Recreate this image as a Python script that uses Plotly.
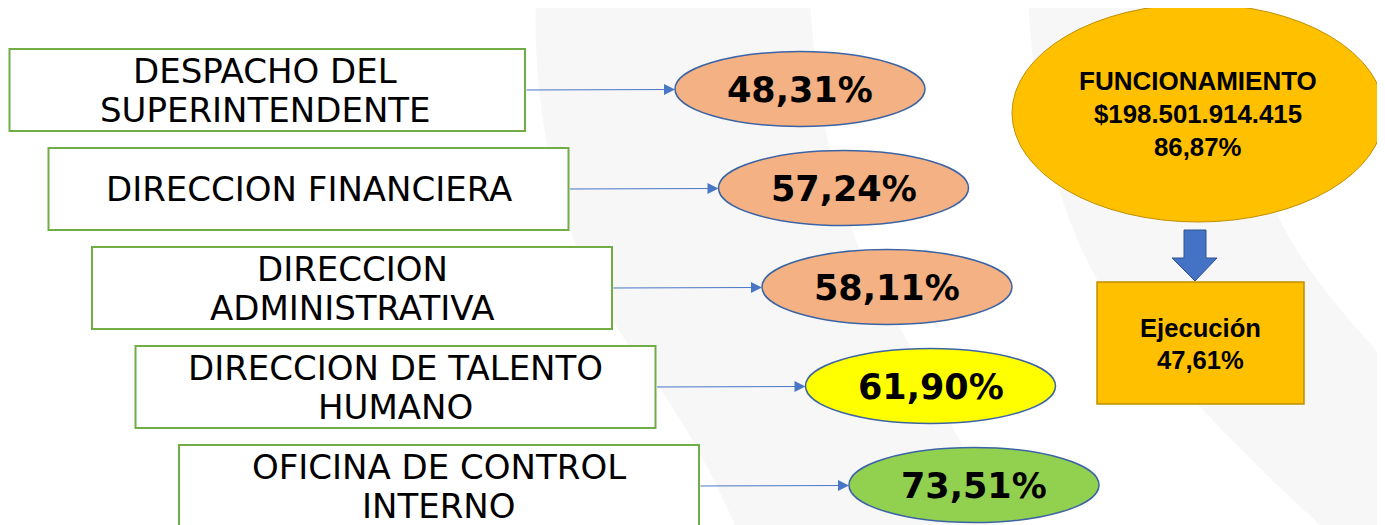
import plotly.graph_objects as go

# ---------------- data ----------------
units = ["DESPACHO DEL\nSUPERINTENDENTE", "DIRECCION FINANCIERA", "DIRECCION\nADMINISTRATIVA",
         "DIRECCION DE TALENTO\nHUMANO", "OFICINA DE CONTROL\nINTERNO"]
unit_pct = [48.31, 57.24, 58.11, 61.90, 73.51]
unit_colors = ["#F4B183", "#F4B183", "#F4B183", "#FFFF00", "#92D050"]
func_label = "FUNCIONAMIENTO"
func_total = 198501914415
func_pct = 86.87
exec_label = "Ejecución"
exec_pct = 47.61

W, H = 1385, 525
PAGE_MARGIN = 8  # default body margin of the html page


def pct_str(v):
    return f"{v:.2f}".replace(".", ",") + "%"


shapes = []
annotations = []

# faint background bands
bandA = ("M 536 0 C 532 120, 560 260, 647 370 C 690 430, 715 480, 735 525 "
         "L 1005 525 C 960 440, 900 330, 860 250 C 830 180, 815 80, 810 0 Z")
bandB = ("M 1028 0 C 1035 120, 1060 250, 1140 340 C 1200 410, 1260 470, 1320 525 "
         "L 1385 525 L 1385 360 C 1330 300, 1280 240, 1265 180 C 1252 110, 1245 50, 1243 0 Z")
for p in (bandA, bandB):
    shapes.append(dict(type="path", path=p, xref="x", yref="y", fillcolor="#F7F7F8",
                       line=dict(width=0), layer="below"))

step_x, step_y = 43.5, 99.0
box_w, box_h = 520, 82
ell_w, ell_h = 250, 75

for i, (name, v, c) in enumerate(zip(units, unit_pct, unit_colors)):
    bx1 = 525 + step_x * i
    bx0 = max(bx1 - box_w, PAGE_MARGIN + 1.5)
    by0 = 49 + step_y * i
    by1 = by0 + box_h if i < len(units) - 1 else by0 + 90
    shapes.append(dict(type="rect", xref="x", yref="y", x0=bx0, x1=bx1, y0=by0, y1=by1,
                       fillcolor="#FFFFFF", line=dict(color="#70AD47", width=2)))
    cy = by0 + 41
    tx = bx1 - box_w / 2
    lines = name.split("\n")
    offs = [0] if len(lines) == 1 else [-19.5, 19.5]
    for ln, o in zip(lines, offs):
        annotations.append(dict(x=tx, y=cy + o, xref="x", yref="y", text=ln,
                                showarrow=False, xanchor="center", yanchor="middle",
                                font=dict(family="DejaVu Sans", size=34, color="#000000")))
    ex0 = 675 + step_x * i
    ecy = 89 + step_y * i
    shapes.append(dict(type="circle", xref="x", yref="y", x0=ex0, x1=ex0 + ell_w,
                       y0=ecy - ell_h / 2, y1=ecy + ell_h / 2, fillcolor=c,
                       line=dict(color="#3B64A5", width=1.5)))
    annotations.append(dict(x=ex0 + ell_w / 2, y=ecy + 1, xref="x", yref="y", text=pct_str(v),
                            showarrow=False, xanchor="center", yanchor="middle",
                            font=dict(family="DejaVu Sans", size=35, color="#000000",
                                      weight="bold")))
    # connector arrow
    annotations.append(dict(x=ex0, y=ecy + 0.5, xref="x", yref="y", ax=bx1, ay=ecy + 1,
                            axref="x", ayref="y", text="", showarrow=True, arrowhead=2,
                            arrowsize=2.2, arrowwidth=1, arrowcolor="#4A76C6", standoff=0))

# Funcionamiento ellipse
fcx, fcy = 1198, 113
shapes.append(dict(type="circle", xref="x", yref="y", x0=fcx - 186, x1=fcx + 186,
                   y0=fcy - 109, y1=fcy + 109, fillcolor="#FFC000",
                   line=dict(color="#BF9000", width=1)))
func_lines = [func_label, "$" + f"{func_total:,}".replace(",", "."), pct_str(func_pct)]
func_sizes = [26, 25.8, 25.8]
for k, (ln, fs) in enumerate(zip(func_lines, func_sizes)):
    annotations.append(dict(x=fcx, y=81 + 33 * k, xref="x", yref="y", text=ln, showarrow=False,
                            xanchor="center", yanchor="middle",
                            font=dict(family="Liberation Sans", size=fs, color="#000000",
                                      weight="bold")))

# block down arrow
arrow_path = "M 1184 230 L 1206 230 L 1206 258 L 1217 258 L 1195 281 L 1172 258 L 1184 258 Z"
shapes.append(dict(type="path", path=arrow_path, xref="x", yref="y", fillcolor="#4472C4",
                   line=dict(color="#2F528F", width=1)))

# Ejecucion box
shapes.append(dict(type="rect", xref="x", yref="y", x0=1097, x1=1304, y0=282, y1=404,
                   fillcolor="#FFC000", line=dict(color="#BF9000", width=1.5)))
for k, ln in enumerate([exec_label, pct_str(exec_pct)]):
    annotations.append(dict(x=1200.5, y=328 + 32 * k, xref="x", yref="y", text=ln,
                            showarrow=False, xanchor="center", yanchor="middle",
                            font=dict(family="Liberation Sans", size=25.6, color="#000000",
                                      weight="bold")))

fig = go.Figure()
fig.add_trace(go.Scatter(x=[PAGE_MARGIN, W], y=[PAGE_MARGIN, H], mode="markers",
                         marker=dict(opacity=0), hoverinfo="skip", showlegend=False))
fig.update_layout(
    width=W - PAGE_MARGIN, height=H - PAGE_MARGIN, margin=dict(l=0, r=0, t=0, b=0),
    paper_bgcolor="#FFFFFF", plot_bgcolor="#FFFFFF",
    xaxis=dict(range=[PAGE_MARGIN, W], visible=False, fixedrange=True),
    yaxis=dict(range=[H, PAGE_MARGIN], visible=False, fixedrange=True),
    shapes=shapes, annotations=annotations, showlegend=False,
)
fig.write_html("out.html", config={"displayModeBar": False})
